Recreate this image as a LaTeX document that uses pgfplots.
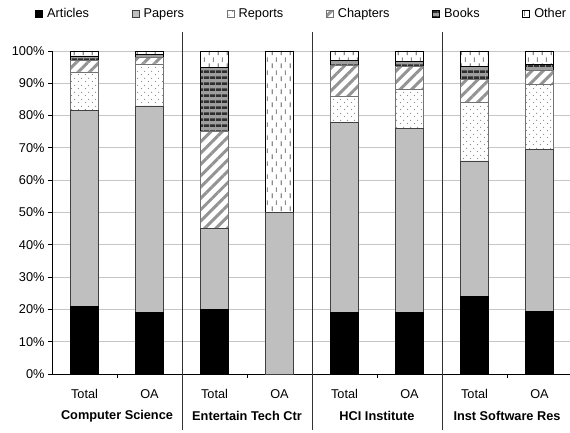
\documentclass[border=0pt]{standalone}
\usepackage{fontspec}
\setmainfont{Liberation Sans}
\usepackage{pgfplots}
\usepackage{pgfplotstable}
\pgfplotsset{compat=1.18}
\usetikzlibrary{patterns,patterns.meta}

% vertical dashes (Other)
\tikzdeclarepattern{
  name=vdashes,
  type=uncolored,
  bottom left={(0bp,0bp)},
  top right={(9bp,13bp)},
  tile size={(9bp,13bp)},
  code={
    \draw[line width=1.2bp] (2.5bp,1bp) -- (2.5bp,6bp);
    \draw[line width=1.2bp] (7bp,7.5bp) -- (7bp,12.5bp);
  }
}
% staggered dots (Reports)
\tikzdeclarepattern{
  name=sdots,
  type=uncolored,
  bottom left={(0bp,0bp)},
  top right={(7bp,7bp)},
  tile size={(7bp,7bp)},
  code={
    \fill (1.75bp,1.75bp) circle (0.7bp);
    \fill (5.25bp,5.25bp) circle (0.7bp);
  }
}
% horizontal bands (Books)
\tikzdeclarepattern{
  name=hbands,
  type=uncolored,
  bottom left={(0bp,0bp)},
  top right={(6bp,6bp)},
  tile size={(6bp,6bp)},
  code={
    \fill (0bp,0bp) rectangle (6bp,3bp);
  }
}

\pgfplotstableread{
x Articles Papers Reports Chapters Books Other
0 21   60.5 12   3.5 1.5 1.5
1 19   64   13   2   1   1
2 20   25   0    30  20  5
3 0    50   0    0   0   50
4 19   59   8    9.5 1.5 3
5 19   57   12   7.3 1.6 3.1
6 24   42   18   7.2 4.1 4.7
7 19.3 50.2 20.2 4.3 1.8 4.2
}\data

\newcommand{\chfont}{\fontsize{12.8}{15}\selectfont}

\begin{document}
\begin{tikzpicture}[font=\chfont]
\useasboundingbox (0,0) rectangle (570bp,433bp);
\begin{axis}[
  at={(52bp,59bp)}, anchor=south west,
  scale only axis,
  width=518bp, height=323bp,
  xmin=-0.5, xmax=7.469,
  ymin=0, ymax=100,
  ybar stacked,
  bar width=28bp,
  clip=false,
  axis x line=bottom, axis y line=left,
  axis line style={-, black, line width=0.8bp},
  ytick={0,10,...,100},
  yticklabel={\pgfmathprintnumber{\tick}\%},
  /pgf/number format/assume math mode=true,
  xtick={0,...,7},
  xticklabels={Total,OA,Total,OA,Total,OA,Total,OA},
  xticklabel style={yshift=-8bp},
  minor xtick={0.5,2.5,4.5,6.5},
  tick align=outside,
  major tick length=4bp,
  minor tick length=4bp,
  major x tick style={draw=none},
  tick style={black, line width=0.8bp},
  ymajorgrids,
  grid style={gray!45, line width=0.8bp},
  tick label style={font=\chfont},
  legend image code/.code={\draw[#1] (0bp,-3.5bp) rectangle (7bp,3.5bp);},
  legend style={draw=none, fill=none, font=\chfont,
    at={(-0.033,1.116)}, anchor=west,
    legend columns=6, inner sep=0pt,
    nodes={inner sep=1.5bp},
    /tikz/every odd column/.append style={column sep=3bp},
    /tikz/every even column/.append style={column sep=41bp},
    /tikz/column 10/.append style={column sep=52bp}},
]
\addplot[fill=black, draw=black, line width=0.6bp] table[x=x,y=Articles]{\data};
\addplot[fill=gray!50, draw=black!75, line width=0.6bp] table[x=x,y=Papers]{\data};
\addplot[preaction={fill=white}, pattern=sdots, pattern color=black!45, draw=black!55, line width=0.6bp] table[x=x,y=Reports]{\data};
\addplot[preaction={fill=white}, pattern={Lines[angle=45,distance=8bp,line width=3bp]}, pattern color=black!42, draw=black!55, line width=0.6bp] table[x=x,y=Chapters]{\data};
\addplot[preaction={fill=black!38}, pattern=hbands, pattern color=black!82, draw=black, line width=0.6bp] table[x=x,y=Books]{\data};
\addplot[preaction={fill=white}, pattern=vdashes, pattern color=black!45, draw=black, line width=0.6bp] table[x=x,y=Other]{\data};
\legend{Articles,Papers,Reports,Chapters,Books,Other}

% group separators and group names
\draw[black!80, line width=0.8bp] (axis cs:1.5,105.9) -- (axis cs:1.5,-17.3);
\draw[black!80, line width=0.8bp] (axis cs:3.5,105.9) -- (axis cs:3.5,-17.3);
\draw[black!80, line width=0.8bp] (axis cs:5.5,105.9) -- (axis cs:5.5,-17.3);
\node[font=\chfont\bfseries] at (axis cs:0.5,0) [yshift=-42bp] {Computer Science};
\node[font=\chfont\bfseries] at (axis cs:2.5,0) [yshift=-42bp] {Entertain Tech Ctr};
\node[font=\chfont\bfseries] at (axis cs:4.5,0) [yshift=-42bp] {HCI Institute};
\node[font=\chfont\bfseries] at (axis cs:6.5,0) [yshift=-42bp] {Inst Software Res};
\end{axis}
\end{tikzpicture}
\end{document}
